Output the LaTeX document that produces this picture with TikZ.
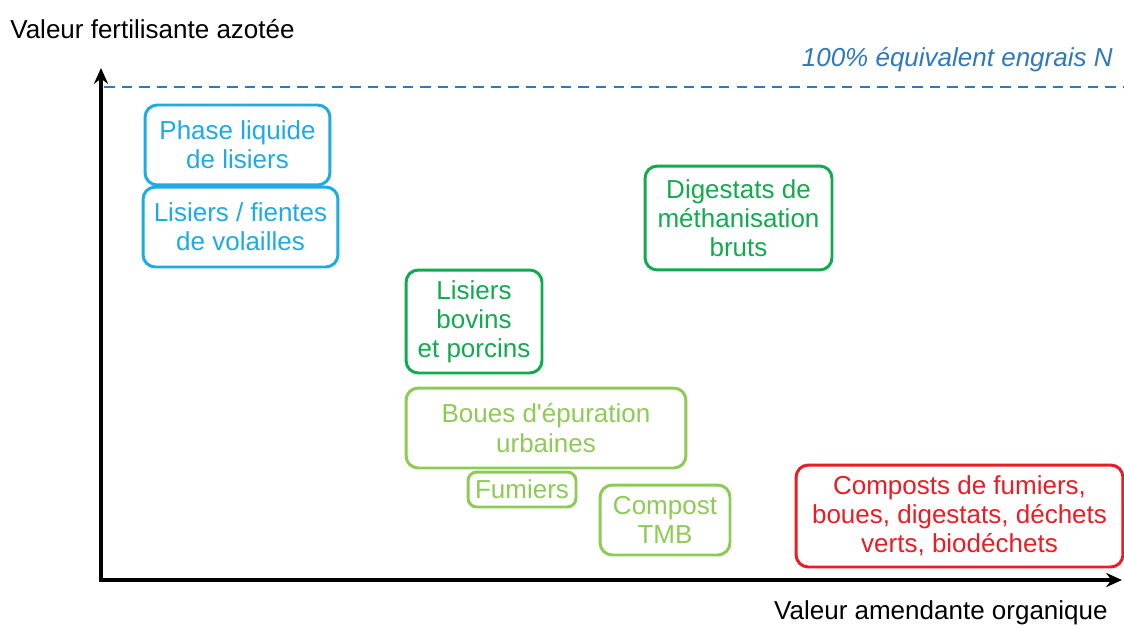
\documentclass[tikz,border=0pt]{standalone}
\usepackage{fontspec}
\setmainfont{Liberation Sans}
\usepackage{tikz}
\usetikzlibrary{arrows.meta, positioning}

\definecolor{lblue}{HTML}{1EAAE2}
\definecolor{dgreen}{HTML}{12AA4E}
\definecolor{lgreen}{HTML}{8DCB55}
\definecolor{cred}{HTML}{EA1C24}
\definecolor{nblue}{HTML}{2E78BE}

\begin{document}
\begin{tikzpicture}[
    x=0.02cm, y=-0.02cm,
    box/.style ={draw, rounded corners=7pt, line width=1.7pt, align=center,
                 inner sep=0pt, font=\fontsize{14.8}{16.6}\selectfont},
    axis/.style={draw=black, line width=2pt},
    lbl/.style ={font=\fontsize{14.8}{16.6}\selectfont, inner sep=0pt}
  ]
  \useasboundingbox (0,0) rectangle (1124,628);

  %% ---- axes --------------------------------------------------------
  \coordinate (origin) at (101,580);
  \coordinate (ytip)   at (101,68);
  \coordinate (xtip)   at (1122,580);
  \draw[axis, {Stealth[length=9pt,width=8pt]}-{Stealth[length=9pt,width=8pt]}]
    (ytip) -- (origin) -- (xtip);
  \node[lbl, anchor=west] (ylab) at (10,29) {Valeur fertilisante azotée};
  \node[lbl, anchor=east] (xlab) at (1108,613) {Valeur amendante organique};

  %% ---- 100% line ---------------------------------------------------
  \coordinate (dstart) at (104,87);
  \coordinate (dend)   at (1124,87);
  \draw[nblue, line width=1.6pt, dash pattern=on 6pt off 4pt] (dstart) -- (dend);
  \node[lbl, text=nblue, font=\fontsize{14.8}{16.6}\selectfont\itshape, anchor=east]
    (ref) at (1113,60) {100\% équivalent engrais N};

  %% ---- boxes -------------------------------------------------------
  \node[box, lblue,  minimum width=3.70cm, minimum height=1.60cm] (phase)  at (237.5,145)
    {Phase liquide\\de lisiers};
  \node[box, lblue,  minimum width=3.90cm, minimum height=1.60cm] (volail) at (240.5,227)
    {Lisiers / fientes\\de volailles};
  \node[box, dgreen, minimum width=3.74cm, minimum height=2.08cm] (digest) at (738.5,218)
    {Digestats de\\méthanisation\\bruts};
  \node[box, dgreen, minimum width=2.72cm, minimum height=2.06cm] (bovin)  at (474,321.5)
    {Lisiers\\bovins\\et porcins};
  \node[box, lgreen, minimum width=5.60cm, minimum height=1.60cm] (boues)  at (546,428)
    {Boues d\textquotesingle épuration\\urbaines};
  \node[box, lgreen, minimum width=2.16cm, minimum height=0.70cm,
        rounded corners=5pt] (fumier) at (522,489.5) {Fumiers};
  \node[box, lgreen, minimum width=2.60cm, minimum height=1.40cm] (tmb)    at (665,520)
    {Compost\\TMB};
  \node[box, cred,   minimum width=6.54cm, minimum height=2.04cm] (compost) at (959.5,516)
    {Composts de fumiers,\\boues, digestats, déchets\\verts, biodéchets};

\end{tikzpicture}
\end{document}
